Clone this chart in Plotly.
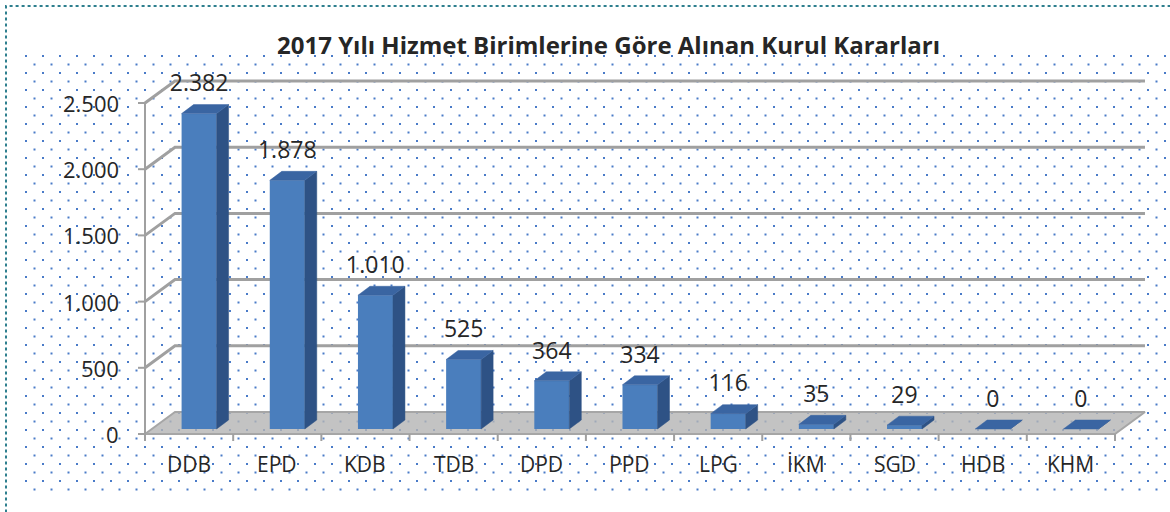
import base64

import plotly.graph_objects as go

categories = ["DDB", "EPD", "KDB", "TDB", "DPD", "PPD", "LPG", "İKM", "SGD", "HDB", "KHM"]
values = [2382, 1878, 1010, 525, 364, 334, 116, 35, 29, 0, 0]
value_labels = ["2.382", "1.878", "1.010", "525", "364", "334", "116", "35", "29", "0", "0"]
y_ticks = [0, 500, 1000, 1500, 2000, 2500]
y_tick_labels = ["0", "500", "1.000", "1.500", "2.000", "2.500"]
title = "2017 Yılı Hizmet Birimlerine Göre Alınan Kurul Kararları"

W, H = 1170, 512
# pixel geometry of the fake 3D box (front axis at x=145px, zero at y=434px)
SLOT_PX = 88.18
UNIT_PX = 331 / 2500
X0_PX, Y0_PX = 145, 434


def dx(px):
    return px / SLOT_PX


def dy(px):
    return px / UNIT_PX


WALL_DX, WALL_DY = dx(30), dy(22)
BAR_SHIFT, BAR_BASE = dx(10), dy(5)
BAR_W = dx(35)
BAR_DX, BAR_DY = dx(12), dy(9)

FRONT = "#4a7ebd"
SIDE = "#2e5285"
TOP = "#3a65a2"
GRID = "#a0a0a0"
TEXT = "#262626"
FONT = "Open Sans, sans-serif"

n = len(categories)
left, right = -0.5, n - 0.5

traces = []

# ── floor ────────────────────────────────────────────────────────────────
traces.append(go.Scatter(
    x=[left, right, right + WALL_DX, left + WALL_DX, left],
    y=[0, 0, WALL_DY, WALL_DY, 0],
    mode="lines", fill="toself",
    fillcolor="rgba(180,180,180,0.8)",
    line={"color": "#a6a6a6", "width": 2},
    hoverinfo="skip",
))

# ── gridlines on the back wall, with the diagonal to the front axis ─────
gx, gy = [], []
for v in y_ticks[1:]:
    gx += [left, left + WALL_DX, right + WALL_DX, None]
    gy += [v, v + WALL_DY, v + WALL_DY, None]
traces.append(go.Scatter(x=gx, y=gy, mode="lines",
                         line={"color": GRID, "width": 3}, hoverinfo="skip"))

# front axis line + ticks
ax, ay = [left, left, None], [0, y_ticks[-1], None]
for v in y_ticks:
    ax += [left - dx(7), left, None]
    ay += [v, v, None]
for k in range(n + 1):
    ax += [left + k, left + k, None]
    ay += [0, -dy(7), None]
traces.append(go.Scatter(x=ax, y=ay, mode="lines",
                         line={"color": GRID, "width": 2}, hoverinfo="skip"))

# ── bars (on an overlaid subplot so they sit above floor and gridlines) ─
traces.append(go.Bar(
    x=[i + BAR_SHIFT for i in range(n)], y=values, base=BAR_BASE, width=BAR_W,
    marker={"color": FRONT, "line": {"width": 0}},
    hovertext=categories, hoverinfo="text+y",
    xaxis="x2", yaxis="y2",
))
sx, sy, tx, ty = [], [], [], []
for i, v in enumerate(values):
    xl = i + BAR_SHIFT - BAR_W / 2
    xr = i + BAR_SHIFT + BAR_W / 2
    b = BAR_BASE
    t = BAR_BASE + v
    sx += [xr, xr + BAR_DX, xr + BAR_DX, xr, xr, None]
    sy += [b, b + BAR_DY, t + BAR_DY, t, b, None]
    tx += [xl, xl + BAR_DX, xr + BAR_DX, xr, xl, None]
    ty += [t, t + BAR_DY, t + BAR_DY, t, t, None]
traces.append(go.Scatter(x=sx, y=sy, mode="lines", fill="toself", fillcolor=SIDE,
                         line={"color": SIDE, "width": 0.5}, hoverinfo="skip",
                         xaxis="x2", yaxis="y2"))
traces.append(go.Scatter(x=tx, y=ty, mode="lines", fill="toself", fillcolor=TOP,
                         line={"color": TOP, "width": 0.5}, hoverinfo="skip",
                         xaxis="x2", yaxis="y2"))

# data labels
traces.append(go.Scatter(
    x=[i + BAR_SHIFT for i in range(n)],
    y=[v + BAR_BASE + BAR_DY + dy(19) for v in values],
    mode="text", text=value_labels, textposition="middle center",
    textfont={"size": 23, "color": TEXT, "family": FONT},
    hoverinfo="skip", xaxis="x2", yaxis="y2",
))

fig = go.Figure(data=traces)

annotations = []
for v, lab in zip(y_ticks, y_tick_labels):
    annotations.append(dict(x=left - dx(24), y=v, text=lab, showarrow=False,
                            xanchor="right", yanchor="middle",
                            font={"size": 22, "color": TEXT, "family": FONT}))
for i, cat in enumerate(categories):
    annotations.append(dict(x=i, y=-dy(30), text=cat, showarrow=False,
                            xanchor="center", yanchor="middle",
                            font={"size": 21, "color": TEXT, "family": FONT}))
annotations.append(dict(x=608 / W, y=1 - 44 / H, xref="paper", yref="paper",
                        text=f"<b>{title}</b>", showarrow=False,
                        xanchor="center", yanchor="middle",
                        font={"size": 24, "color": TEXT, "family": FONT}))

# dotted background texture (staggered dot lattice)
pw, ph = W - 22, 495 - 52
svg = (
    f'<svg xmlns="http://www.w3.org/2000/svg" width="{pw}" height="{ph}" '
    f'viewBox="0 0 {pw} {ph}"><defs><pattern id="p" width="17" height="17" '
    'patternUnits="userSpaceOnUse">'
    '<rect x="3" y="3" width="2" height="2" fill="#4a7bc8"/>'
    '<rect x="11.5" y="11.5" width="2" height="2" fill="#4a7bc8"/>'
    '</pattern></defs><rect width="100%" height="100%" fill="url(#p)"/></svg>'
)
src = "data:image/svg+xml;base64," + base64.b64encode(svg.encode()).decode()

xrange_ = [left - dx(X0_PX), left + dx(W - X0_PX)]
yrange_ = [-dy(H - Y0_PX), dy(Y0_PX)]
fig.update_layout(
    width=W, height=H,
    margin={"l": 0, "r": 0, "t": 0, "b": 0},
    paper_bgcolor="white", plot_bgcolor="rgba(0,0,0,0)",
    showlegend=False,
    font={"family": FONT, "color": TEXT},
    xaxis={"range": xrange_, "visible": False, "fixedrange": True},
    yaxis={"range": yrange_, "visible": False, "fixedrange": True},
    xaxis2={"range": xrange_, "visible": False, "fixedrange": True,
            "overlaying": "x"},
    yaxis2={"range": yrange_, "visible": False, "fixedrange": True,
            "overlaying": "y"},
    annotations=annotations,
    images=[dict(source=src, xref="paper", yref="paper",
                 x=22 / W, y=1 - 52 / H, sizex=pw / W, sizey=ph / H,
                 xanchor="left", yanchor="top", sizing="stretch", layer="below")],
    shapes=[dict(type="rect", xref="paper", yref="paper",
                 x0=6 / W, x1=1.05, y0=-0.05, y1=1 - 6 / H,
                 line={"color": "#2e7f8e", "width": 2, "dash": "dot"})],
)

# drop the browser's default body margin so the figure sits at the page origin
fig.write_html("out.html", config={"displayModeBar": False},
               post_script="document.body.style.margin='0';")
